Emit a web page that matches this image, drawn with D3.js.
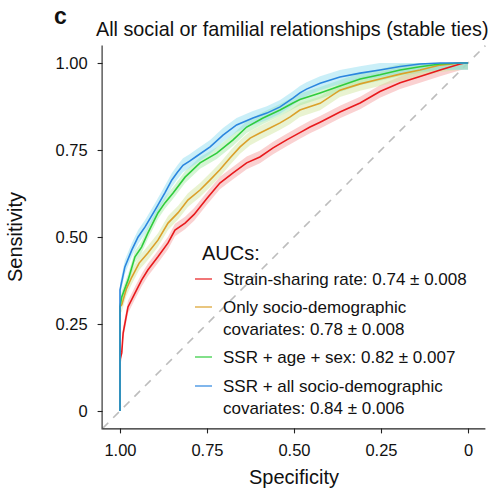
<!DOCTYPE html>
<html>
<head>
<meta charset="utf-8">
<script src="https://cdn.jsdelivr.net/npm/d3@7"></script>
<style>
 body { margin:0; background:#fff; }
 text { font-family: "Liberation Sans", Arial, sans-serif; fill:#111; }
</style>
</head>
<body>
<script>
// ROC points: [specificity, sensitivity]
var rocSSR = [[1,0],[1,0.147],[0.995,0.167],[0.991,0.224],[0.977,0.299],[0.957,0.339],[0.938,0.376],[0.920,0.405],
  [0.891,0.443],[0.862,0.483],[0.842,0.520],[0.813,0.540],[0.787,0.565],[0.751,0.610],[0.713,0.655],[0.675,0.684],
  [0.636,0.713],[0.598,0.730],[0.560,0.756],[0.521,0.779],[0.483,0.800],[0.454,0.816],[0.425,0.830],[0.368,0.859],
  [0.310,0.885],[0.253,0.918],[0.195,0.943],[0.138,0.961],[0.080,0.980],[0.023,0.997],[0.009,1],[0,1]];
var rocSocio = [[1,0],[1,0.300],[0.995,0.305],[0.982,0.350],[0.966,0.385],[0.945,0.425],[0.920,0.454],[0.891,0.491],
  [0.862,0.540],[0.833,0.570],[0.805,0.606],[0.770,0.635],[0.741,0.664],[0.713,0.693],[0.684,0.727],[0.655,0.759],
  [0.626,0.784],[0.598,0.799],[0.569,0.813],[0.540,0.828],[0.511,0.845],[0.483,0.865],[0.425,0.884],[0.368,0.922],
  [0.310,0.940],[0.253,0.954],[0.195,0.968],[0.138,0.980],[0.080,0.994],[0.023,1],[0,1]];
var rocAgeSex = [[1,0],[1,0.300],[0.995,0.328],[0.977,0.376],[0.957,0.443],[0.938,0.471],[0.920,0.511],[0.891,0.569],
  [0.871,0.598],[0.848,0.626],[0.813,0.672],[0.770,0.713],[0.722,0.741],[0.675,0.779],[0.636,0.816],[0.589,0.842],
  [0.540,0.865],[0.503,0.885],[0.483,0.895],[0.425,0.914],[0.368,0.934],[0.310,0.954],[0.253,0.966],[0.195,0.980],
  [0.138,0.989],[0.080,0.997],[0.023,1],[0,1]];
var rocAll = [[1,0],[1,0.348],[0.986,0.414],[0.966,0.463],[0.948,0.500],[0.928,0.529],[0.899,0.578],[0.871,0.627],
  [0.851,0.664],[0.835,0.686],[0.819,0.706],[0.800,0.718],[0.780,0.732],[0.741,0.759],[0.704,0.793],[0.665,0.822],
  [0.618,0.842],[0.578,0.856],[0.540,0.874],[0.503,0.899],[0.483,0.914],[0.464,0.925],[0.425,0.942],[0.368,0.960],
  [0.310,0.971],[0.253,0.980],[0.195,0.990],[0.138,0.997],[0.080,1],[0,1]];

var ciHalf = [0.018, 0.02, 0.017, 0.02];  // half width of the shaded bands
var legendLines = [["Strain-sharing rate: 0.74 \u00b1 0.008"],
  ["Only socio-demographic", "covariates: 0.78 \u00b1 0.008"],
  ["SSR + age + sex: 0.82 \u00b1 0.007"],
  ["SSR + all socio-demographic", "covariates: 0.84 \u00b1 0.006"]];
var lineColors = ["#e8191c", "#dba02a", "#2fcc3c", "#2b86df"];
var bandColors = ["#f39a9a", "#cfe59a", "#9fe99f", "#8adcf0"];
var tickVals = [1, 0.75, 0.5, 0.25, 0];
var tickLabels = ["1.00", "0.75", "0.50", "0.25", "0"];

var series = [rocSSR, rocSocio, rocAgeSex, rocAll];

var svg = d3.select("body").append("svg").attr("width", 494).attr("height", 492);

var x = d3.scaleLinear().domain([1, 0]).range([120, 468]);
var y = d3.scaleLinear().domain([0, 1]).range([411, 63]);
var x0 = x(1.05), x1 = x(-0.05), yTop = y(1.05), yBot = y(-0.05);

// diagonal reference
svg.append("line")
   .attr("x1", x(1.05)).attr("y1", y(-0.05))
   .attr("x2", x(-0.05)).attr("y2", y(1.05))
   .attr("stroke", "#bdbdbd").attr("stroke-width", 1.6)
   .attr("stroke-dasharray", "8,7");

// bands
series.forEach(function(s, i) {
  var area = d3.area()
      .x(function(d) { return x(d[0]); })
      .y0(function(d) { return y(Math.max(0, d[1] - ciHalf[i])); })
      .y1(function(d) { return y(Math.min(1, d[1] + ciHalf[i])); });
  svg.append("path").datum(s).attr("d", area)
     .attr("fill", bandColors[i]).attr("fill-opacity", 0.45);
});

// curves
var line = d3.line().x(function(d) { return x(d[0]); }).y(function(d) { return y(d[1]); });
series.forEach(function(s, i) {
  svg.append("path").datum(s).attr("d", line)
     .attr("fill", "none").attr("stroke", lineColors[i]).attr("stroke-width", 1.6);
});

// axes
var xAxis = d3.axisBottom(x).tickValues(tickVals).tickSize(5).tickPadding(11)
    .tickFormat(function(d, i) { return tickLabels[i]; });
var gx = svg.append("g").attr("transform", "translate(0," + yBot + ")").call(xAxis);
gx.select(".domain").attr("d", "M" + x0 + ",0.5H" + x1);

var yAxis = d3.axisLeft(y).tickValues(tickVals).tickSize(5).tickPadding(10)
    .tickFormat(function(d, i) { return tickLabels[i]; });
var gy = svg.append("g").attr("transform", "translate(" + x0 + ",0)").call(yAxis);
gy.select(".domain").attr("d", "M-0.5," + yTop + "V" + (yBot + 1));

svg.selectAll(".tick text").style("font-family", "Liberation Sans, Arial, sans-serif")
   .style("font-size", "16.5px").attr("fill", "#111");
svg.selectAll(".tick line, .domain").attr("stroke", "#222").attr("stroke-width", 1.1);

// titles
svg.append("text").attr("x", 54).attr("y", 24).text("c")
   .style("font-size", "23px").style("font-weight", "900");
svg.append("text").attr("x", 96).attr("y", 36)
   .text("All social or familial relationships (stable ties)").style("font-size", "19.8px");
svg.append("text").attr("x", x(0.5)).attr("y", 484).attr("text-anchor", "middle")
   .text("Specificity").style("font-size", "20px");
svg.append("text").attr("transform", "translate(22," + y(0.5) + ") rotate(-90)")
   .attr("text-anchor", "middle").text("Sensitivity").style("font-size", "20px");

// legend
var lg = svg.append("g");
lg.append("text").attr("x", 202).attr("y", 260).text("AUCs:").style("font-size", "20px");
var rowY = [285, 313, 363, 392];
legendLines.forEach(function(rows, i) {
  lg.append("line").attr("x1", 195).attr("x2", 212)
    .attr("y1", rowY[i] - 6).attr("y2", rowY[i] - 6)
    .attr("stroke", lineColors[i]).attr("stroke-opacity", 0.75).attr("stroke-width", 1.6);
  rows.forEach(function(t, j) {
    lg.append("text").attr("x", 223).attr("y", rowY[i] + j * 22)
      .text(t).style("font-size", "17px");
  });
});
</script>
</body>
</html>
